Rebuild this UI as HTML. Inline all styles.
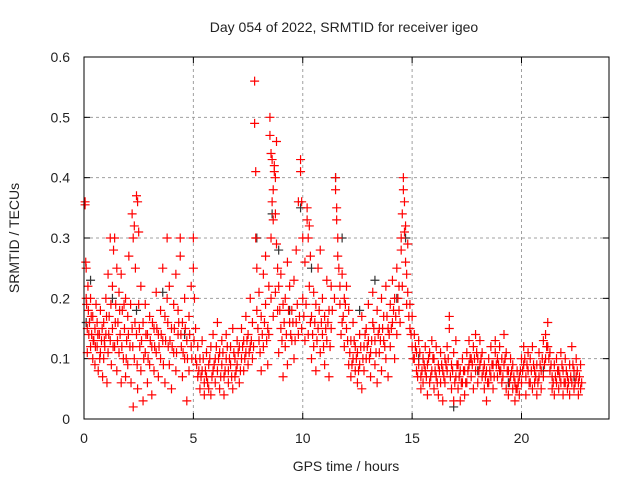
<!DOCTYPE html>
<html><head><meta charset="utf-8"><style>
body{margin:0;background:#fff}
svg{display:block}
text{font-family:"Liberation Sans",sans-serif;font-size:14px;fill:#222}
</style></head><body>
<svg id="chart" width="640" height="480">
<text x="344" y="32" text-anchor="middle">Day 054 of 2022, SRMTID for receiver igeo</text>
<text x="346" y="471" text-anchor="middle">GPS time / hours</text>
<text transform="translate(19,238) rotate(-90)" text-anchor="middle">SRMTID / TECUs</text>
<g id="grid"></g>
<g id="ticks"></g>
<g id="blackPts"></g>
<g id="redPts"></g>
<rect x="84" y="57" width="525" height="362" fill="none" stroke="#000" stroke-width="1"/>
</svg>
<script>
const xTicks=[0,5,10,15,20];
const yTicks=[0,0.1,0.2,0.3,0.4,0.5,0.6];
const yTickLabels=["0","0.1","0.2","0.3","0.4","0.5","0.6"];
const redA=[[0.05,0.36],[0.05,0.355],[0.08,0.26],[0.1,0.25],[0.1,0.2],[0.12,0.19],[0.15,0.15],[0.18,0.22],[0.2,0.18],[0.25,0.16],[0.3,0.2],[0.3,0.12],[0.35,0.14],[0.4,0.1],[0.4,0.17],[0.45,0.13],[0.5,0.09],[0.5,0.15],[0.55,0.19],[0.6,0.12],[0.6,0.16],[0.65,0.08],[0.7,0.14],[0.75,0.18],[0.75,0.11],[0.8,0.13],[0.85,0.07],[0.9,0.16],[0.9,0.1],[0.95,0.12],[1.0,0.2],[1.0,0.14],[1.05,0.06],[1.1,0.24],[1.1,0.11],[1.15,0.17],[1.2,0.3],[1.2,0.13],[1.25,0.09],[1.3,0.22],[1.3,0.15],[1.35,0.28],[1.4,0.3],[1.4,0.12],[1.45,0.19],[1.5,0.25],[1.5,0.08],[1.55,0.16],[1.6,0.21],[1.6,0.11],[1.65,0.14],[1.7,0.24],[1.7,0.06],[1.75,0.18],[1.8,0.1],[1.85,0.15],[1.9,0.2],[1.9,0.07],[1.95,0.13],[2.0,0.17],[2.0,0.09],[2.05,0.27],[2.1,0.12],[2.15,0.06],[2.2,0.34],[2.2,0.15],[2.25,0.3],[2.25,0.02],[2.3,0.32],[2.3,0.1],[2.35,0.25],[2.4,0.37],[2.4,0.14],[2.45,0.36],[2.45,0.05],[2.5,0.31],[2.5,0.19],[2.55,0.12],[2.6,0.08],[2.6,0.22],[2.7,0.03],[2.7,0.16],[2.8,0.11],[2.8,0.19],[2.9,0.06],[2.9,0.14],[3.0,0.09],[3.0,0.17],[3.1,0.04],[3.1,0.12],[3.2,0.15],[3.2,0.08],[3.3,0.21],[3.3,0.11],[3.4,0.07],[3.4,0.14],[3.5,0.18],[3.5,0.1],[3.6,0.25],[3.6,0.13],[3.7,0.06],[3.7,0.17],[3.8,0.3],[3.8,0.2],[3.85,0.12],[3.9,0.09],[3.9,0.22],[4.0,0.15],[4.0,0.05],[4.1,0.19],[4.1,0.11],[4.2,0.24],[4.2,0.08],[4.3,0.14],[4.3,0.18],[4.4,0.3],[4.4,0.27],[4.45,0.12],[4.5,0.16],[4.5,0.07],[4.6,0.2],[4.6,0.1],[4.7,0.13],[4.7,0.03],[4.8,0.17],[4.8,0.08],[4.9,0.22],[4.9,0.12],[5.0,0.3],[5.0,0.25],[5.05,0.2],[5.1,0.15],[5.1,0.1]];
const redB=[[5.2,0.12],[5.2,0.07],[5.3,0.05],[5.3,0.1],[5.4,0.08],[5.4,0.13],[5.5,0.06],[5.5,0.04],[5.6,0.11],[5.6,0.07],[5.7,0.05],[5.7,0.09],[5.8,0.12],[5.8,0.04],[5.9,0.08],[5.9,0.14],[6.0,0.06],[6.0,0.1],[6.1,0.16],[6.1,0.08],[6.2,0.05],[6.2,0.11],[6.3,0.09],[6.3,0.13],[6.4,0.07],[6.4,0.04],[6.5,0.1],[6.5,0.14],[6.6,0.08],[6.6,0.06],[6.7,0.12],[6.7,0.09],[6.8,0.05],[6.8,0.15],[6.9,0.1],[6.9,0.07],[7.0,0.13],[7.0,0.09],[7.1,0.06],[7.1,0.12],[7.2,0.1],[7.2,0.15],[7.3,0.08],[7.3,0.13],[7.4,0.11],[7.4,0.17],[7.5,0.09],[7.5,0.14],[7.6,0.12],[7.6,0.2],[7.7,0.16],[7.7,0.1],[7.8,0.56],[7.8,0.49],[7.85,0.41],[7.85,0.3],[7.9,0.25],[7.9,0.18],[8.0,0.13],[8.0,0.21],[8.1,0.08],[8.1,0.17],[8.2,0.24],[8.2,0.12],[8.3,0.19],[8.3,0.27],[8.4,0.15],[8.4,0.09],[8.45,0.22],[8.5,0.5],[8.5,0.47],[8.55,0.44],[8.55,0.3],[8.6,0.43],[8.6,0.36],[8.65,0.38],[8.65,0.33],[8.7,0.42],[8.7,0.41],[8.75,0.4],[8.75,0.34],[8.8,0.46],[8.8,0.29],[8.85,0.25],[8.85,0.18],[8.9,0.22],[8.9,0.11],[9.0,0.24],[9.0,0.15],[9.1,0.19],[9.1,0.07],[9.2,0.2],[9.2,0.12],[9.3,0.26],[9.3,0.09],[9.4,0.16],[9.4,0.22],[9.5,0.13],[9.5,0.18],[9.6,0.23],[9.6,0.1],[9.7,0.28],[9.7,0.16],[9.8,0.36],[9.8,0.14],[9.9,0.43],[9.9,0.41],[9.95,0.36],[10.0,0.3],[10.0,0.2],[10.1,0.26],[10.1,0.13],[10.2,0.35],[10.2,0.33],[10.25,0.3],[10.3,0.32],[10.3,0.22],[10.35,0.27],[10.4,0.17],[10.4,0.1],[10.5,0.21],[10.5,0.12],[10.6,0.19],[10.6,0.08],[10.7,0.25],[10.7,0.15],[10.8,0.28],[10.8,0.11],[10.9,0.2],[10.9,0.14],[11.0,0.17],[11.0,0.09],[11.1,0.23],[11.1,0.13],[11.2,0.18],[11.2,0.07],[11.3,0.22],[11.3,0.15]];
const redC=[[11.5,0.4],[11.5,0.38],[11.55,0.35],[11.55,0.33],[11.6,0.3],[11.6,0.27],[11.65,0.25],[11.7,0.22],[11.7,0.19],[11.8,0.24],[11.8,0.16],[11.9,0.2],[11.9,0.12],[12.0,0.22],[12.0,0.15],[12.1,0.18],[12.1,0.09],[12.2,0.13],[12.2,0.07],[12.3,0.1],[12.3,0.16],[12.4,0.08],[12.4,0.12],[12.5,0.06],[12.5,0.11],[12.6,0.14],[12.6,0.09],[12.7,0.17],[12.7,0.05],[12.8,0.12],[12.8,0.08],[12.9,0.15],[12.9,0.1],[13.0,0.13],[13.0,0.19],[13.1,0.07],[13.1,0.11],[13.2,0.16],[13.2,0.21],[13.3,0.09],[13.3,0.13],[13.4,0.18],[13.4,0.06],[13.5,0.11],[13.5,0.15],[13.6,0.08],[13.6,0.2],[13.7,0.13],[13.7,0.17],[13.8,0.1],[13.8,0.22],[13.9,0.15],[13.9,0.07],[14.0,0.19],[14.0,0.12],[14.1,0.16],[14.1,0.23],[14.2,0.1],[14.2,0.2],[14.3,0.25],[14.3,0.14],[14.4,0.22],[14.4,0.18],[14.5,0.3],[14.5,0.28],[14.55,0.34],[14.6,0.4],[14.6,0.38],[14.65,0.36],[14.65,0.31],[14.7,0.32],[14.7,0.26],[14.75,0.24],[14.8,0.29],[14.8,0.21],[14.9,0.19],[14.9,0.15],[15.0,0.17],[15.0,0.12],[15.1,0.14],[15.1,0.1],[15.2,0.11],[15.2,0.08],[15.3,0.09],[15.3,0.13],[15.4,0.07],[15.4,0.05],[15.5,0.1],[15.5,0.06],[15.6,0.12],[15.6,0.08],[15.7,0.04],[15.7,0.09],[15.8,0.11],[15.8,0.06],[15.9,0.08],[15.9,0.13],[16.0,0.05],[16.0,0.1],[16.1,0.07],[16.1,0.12],[16.2,0.09],[16.2,0.04],[16.3,0.11],[16.3,0.06],[16.4,0.08],[16.4,0.03],[16.5,0.1],[16.5,0.06],[16.6,0.12],[16.6,0.08],[16.7,0.17],[16.7,0.15],[16.8,0.05],[16.8,0.09],[16.9,0.11],[16.9,0.03],[17.0,0.07],[17.0,0.13],[17.1,0.05],[17.1,0.09],[17.2,0.08],[17.2,0.03],[17.3,0.1],[17.3,0.06]];
const redD=[[17.4,0.08],[17.4,0.04],[17.5,0.11],[17.5,0.06],[17.6,0.09],[17.6,0.13],[17.7,0.07],[17.7,0.1],[17.8,0.12],[17.8,0.05],[17.9,0.14],[17.9,0.08],[18.0,0.1],[18.0,0.06],[18.1,0.13],[18.1,0.09],[18.2,0.07],[18.2,0.11],[18.3,0.05],[18.3,0.09],[18.4,0.08],[18.4,0.03],[18.5,0.1],[18.5,0.06],[18.6,0.12],[18.6,0.07],[18.7,0.09],[18.7,0.05],[18.8,0.11],[18.8,0.13],[18.9,0.07],[18.9,0.1],[19.0,0.08],[19.0,0.12],[19.1,0.06],[19.1,0.1],[19.2,0.14],[19.2,0.09],[19.3,0.05],[19.3,0.11],[19.4,0.08],[19.4,0.04],[19.5,0.07],[19.5,0.1],[19.6,0.05],[19.6,0.09],[19.7,0.06],[19.7,0.03],[19.8,0.08],[19.8,0.05],[19.9,0.04],[19.9,0.07],[20.0,0.1],[20.0,0.06],[20.1,0.09],[20.1,0.12],[20.2,0.07],[20.2,0.04],[20.3,0.11],[20.3,0.08],[20.4,0.06],[20.4,0.1],[20.5,0.12],[20.5,0.05],[20.6,0.08],[20.6,0.06],[20.7,0.09],[20.7,0.04],[20.8,0.07],[20.8,0.11],[20.9,0.05],[20.9,0.08],[21.0,0.13],[21.0,0.07],[21.1,0.14],[21.1,0.1],[21.2,0.16],[21.2,0.12],[21.3,0.08],[21.3,0.11],[21.4,0.05],[21.4,0.07],[21.5,0.09],[21.5,0.04],[21.6,0.06],[21.6,0.1],[21.7,0.08],[21.7,0.05],[21.8,0.11],[21.8,0.06],[21.9,0.04],[21.9,0.08],[22.0,0.06],[22.0,0.1],[22.1,0.07],[22.1,0.05],[22.2,0.09],[22.2,0.04],[22.3,0.12],[22.3,0.06],[22.4,0.08],[22.4,0.05],[22.5,0.1],[22.5,0.07],[22.6,0.04],[22.6,0.06],[22.7,0.09],[22.7,0.05]];
const redE=[[0.15,0.11],[0.22,0.14],[0.33,0.17],[0.42,0.13],[0.52,0.12],[0.63,0.14],[0.72,0.1],[0.83,0.15],[0.93,0.13],[1.03,0.17],[1.13,0.14],[1.23,0.19],[1.33,0.12],[1.43,0.16],[1.53,0.13],[1.63,0.18],[1.73,0.12],[1.83,0.19],[1.93,0.1],[2.03,0.14],[2.13,0.19],[2.23,0.12],[2.33,0.16],[2.43,0.09],[2.53,0.15],[2.63,0.13],[2.73,0.1],[2.83,0.14],[2.93,0.1],[3.03,0.13],[3.13,0.16],[3.23,0.12],[3.33,0.15],[3.43,0.12],[3.53,0.14],[3.63,0.09],[3.73,0.13],[3.83,0.16],[3.93,0.13],[4.03,0.12],[4.13,0.15],[4.23,0.11],[4.33,0.16],[4.43,0.14],[4.53,0.11],[4.63,0.15],[4.73,0.1],[4.83,0.14],[4.93,0.1],[5.03,0.13],[5.15,0.09],[5.25,0.08],[5.35,0.07],[5.45,0.1],[5.55,0.08],[5.65,0.06],[5.75,0.1],[5.85,0.07],[5.95,0.09],[6.05,0.12],[6.15,0.1],[6.25,0.07],[6.35,0.11],[6.45,0.08],[6.55,0.12],[6.65,0.1],[6.75,0.07],[6.85,0.11],[6.95,0.08],[7.05,0.11],[7.15,0.08],[7.25,0.12],[7.35,0.1],[7.45,0.13],[7.55,0.11],[7.65,0.13],[7.75,0.12],[7.95,0.15],[8.05,0.11],[8.15,0.14],[8.25,0.16],[8.35,0.13],[8.45,0.14],[8.55,0.2],[8.65,0.17],[8.75,0.21],[8.95,0.18],[9.05,0.13],[9.15,0.16],[9.25,0.14],[9.35,0.18],[9.45,0.14],[9.55,0.16],[9.65,0.13],[9.75,0.19],[9.85,0.17],[9.95,0.15],[10.05,0.17],[10.15,0.19],[10.25,0.14],[10.35,0.16],[10.45,0.14],[10.55,0.16],[10.65,0.13],[10.75,0.18],[10.85,0.16],[10.95,0.12],[11.05,0.15],[11.15,0.16],[11.25,0.12],[11.35,0.18],[11.45,0.2],[11.75,0.14],[11.85,0.17],[11.95,0.19],[12.05,0.13],[12.15,0.11],[12.25,0.09],[12.35,0.13],[12.45,0.1],[12.55,0.08],[12.65,0.12],[12.75,0.1],[12.85,0.14],[12.95,0.12],[13.05,0.1],[13.15,0.13],[13.25,0.15],[13.35,0.11],[13.45,0.14],[13.55,0.13],[13.65,0.15],[13.75,0.12],[13.85,0.17],[13.95,0.14],[14.05,0.15],[14.15,0.18],[14.25,0.17],[14.35,0.2],[14.45,0.16],[14.55,0.22],[14.75,0.19],[14.85,0.17],[14.95,0.14],[15.05,0.1],[15.15,0.12],[15.25,0.07],[15.35,0.11],[15.45,0.08],[15.55,0.09],[15.65,0.07],[15.75,0.1],[15.85,0.07],[15.95,0.1],[16.05,0.08],[16.15,0.06],[16.25,0.08],[16.35,0.09],[16.45,0.07],[16.55,0.09],[16.65,0.1],[16.75,0.07],[16.85,0.08],[16.95,0.06],[17.05,0.09],[17.15,0.07],[17.25,0.06],[17.35,0.08],[17.45,0.06],[17.55,0.08],[17.65,0.1],[17.75,0.09],[17.85,0.1],[17.95,0.11],[18.05,0.08],[18.15,0.1],[18.25,0.08],[18.35,0.07],[18.45,0.06],[18.55,0.08],[18.65,0.09],[18.75,0.07],[18.85,0.09],[18.95,0.09],[19.05,0.08],[19.15,0.07],[19.25,0.1],[19.35,0.08],[19.45,0.06],[19.55,0.08],[19.65,0.07],[19.75,0.05],[19.85,0.06],[19.95,0.08],[20.05,0.08],[20.15,0.1],[20.25,0.09],[20.35,0.06],[20.45,0.08],[20.55,0.09],[20.65,0.07],[20.75,0.06],[20.85,0.09],[20.95,0.1],[21.05,0.09],[21.15,0.12],[21.25,0.1],[21.35,0.09],[21.45,0.06],[21.55,0.07],[21.65,0.08],[21.75,0.07],[21.85,0.09],[21.95,0.06],[22.05,0.08],[22.15,0.06],[22.25,0.07],[22.35,0.09],[22.45,0.06],[22.55,0.08],[22.65,0.07],[22.75,0.06]];
const blackPtsData=[[0.1,0.16],[0.3,0.23],[1.3,0.2],[2.4,0.18],[3.6,0.21],[4.6,0.14],[7.9,0.3],[8.6,0.34],[8.9,0.28],[9.4,0.18],[9.9,0.35],[10.4,0.25],[11.5,0.4],[11.8,0.3],[12.6,0.18],[13.3,0.23],[14.3,0.2],[14.7,0.3],[15.3,0.1],[16.9,0.02],[18.0,0.08],[19.4,0.06],[21.0,0.08],[22.4,0.07]];
const X0=84,X1=609,Y0=419,Y1=57,XMAX=24,YMAX=0.6;
const xs=t=>X0+(X1-X0)*t/XMAX;
const ys=v=>Y0-(Y0-Y1)*v/YMAX;
const NS='http://www.w3.org/2000/svg';
function mk(tag,parent,attrs){const e=document.createElementNS(NS,tag);for(const k in attrs)e.setAttribute(k,attrs[k]);parent.appendChild(e);return e;}
const grid=document.getElementById('grid'),ticks=document.getElementById('ticks');
xTicks.forEach(t=>{const x=xs(t);
 if(t>0){const g=mk('line',grid,{x1:x,x2:x,y1:Y1,y2:Y0,stroke:'#a0a0a0','stroke-dasharray':'3,3'});
 
 }
 mk('line',ticks,{x1:x,x2:x,y1:Y0,y2:Y0-6,stroke:'#000'});mk('line',ticks,{x1:x,x2:x,y1:Y1,y2:Y1+6,stroke:'#000'});
 const l=mk('text',ticks,{x:x,y:443,'text-anchor':'middle'});l.textContent=String(t);
 
 });
yTicks.forEach((v,i)=>{const y=ys(v);
 if(v>0&&v<0.6){const g=mk('line',grid,{x1:X0,x2:X1,y1:y,y2:y,stroke:'#a0a0a0','stroke-dasharray':'3,3'});
 
 }
 mk('line',ticks,{x1:X0,x2:X0+6,y1:y,y2:y,stroke:'#000'});mk('line',ticks,{x1:X1,x2:X1-6,y1:y,y2:y,stroke:'#000'});
 const l=mk('text',ticks,{x:X0-14,y:y+5,'text-anchor':'end'});l.textContent=yTickLabels[i];
 
 });
function plus(parent,t,v,col,name){const x=xs(t),y=ys(v);
 const p=mk('path',parent,{d:`M${x-4.5},${y}H${x+4.5}M${x},${y-4.5}V${y+4.5}`,stroke:col,'stroke-width':1.2,fill:'none'});
 
 }
const bg=document.getElementById('blackPts'),rg=document.getElementById('redPts');
blackPtsData.forEach(p=>plus(bg,p[0],p[1],'#333','black-point'));
[redA,redB,redC,redD,redE].forEach(arr=>arr.forEach(p=>plus(rg,p[0],p[1],'#ff0000','red-point')));
</script>
</body></html>
